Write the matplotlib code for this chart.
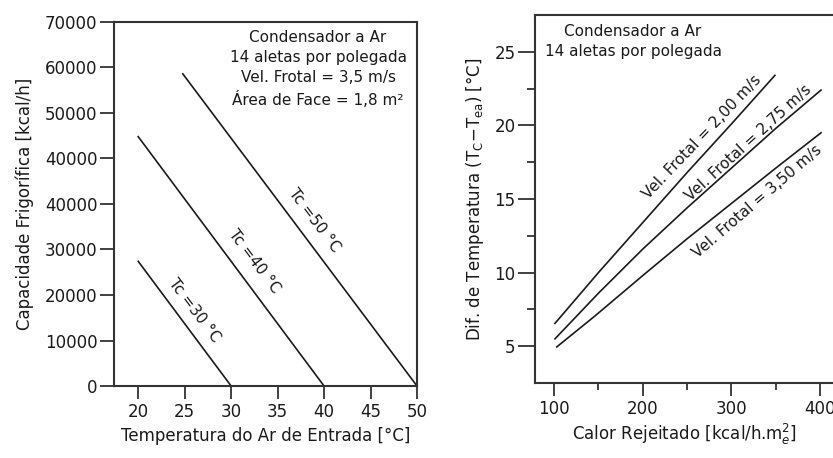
import matplotlib
matplotlib.use("Agg")
import matplotlib.pyplot as plt
import numpy as np

plt.rcParams['font.family'] = ['DejaVu Sans']

# ---------------- Left panel data ----------------
left_xticks = [20, 25, 30, 35, 40, 45, 50]
left_ytick_pos = [0, 10000, 20000, 30000, 40000, 50000, 60000, 70000, 80000]
left_ytick_labels = ["0", "10000", "20000", "30000", "40000", "40000", "50000", "60000", "70000"]

tc30_x = [20, 30]
tc30_y = [27400, 0]
tc40_x = [20, 40]
tc40_y = [54800, 0]
tc50_x = [24.8, 50]
tc50_y = [68600, 0]
tc_labels = ["Tc =30 °C", "Tc =40 °C", "Tc =50 °C"]

# ---------------- Right panel data ----------------
right_xticks = [100, 200, 300, 400]
right_xminor = [150, 250, 350]
right_yticks = [5, 10, 15, 20, 25]
right_yminor = [7.5, 12.5, 17.5, 22.5]

v200_x = [101, 150, 200, 250, 300, 349]
v200_y = [6.55, 10.0, 13.4, 16.8, 20.1, 23.4]
v275_x = [101, 150, 200, 250, 300, 350, 401]
v275_y = [5.5, 8.6, 11.6, 14.4, 17.1, 19.8, 22.4]
v350_x = [103, 146, 200, 250, 300, 350, 401]
v350_y = [4.95, 7.05, 9.8, 12.3, 14.7, 17.1, 19.5]
vel_labels = ["Vel. Frotal = 2,00 m/s", "Vel. Frotal = 2,75 m/s", "Vel. Frotal = 3,50 m/s"]

ink = "#1a1a1a"
spine_c = "#333333"

fig = plt.figure(figsize=(8.33, 4.58), dpi=100)

# ================= Left axes =================
ax1 = fig.add_axes([0.1369, 0.1572, 0.3637, 0.7948])
for x, y in [(tc30_x, tc30_y), (tc40_x, tc40_y), (tc50_x, tc50_y)]:
    ax1.plot(x, y, color=ink, lw=1.2)
ax1.set_xlim(17.4, 50)
ax1.set_ylim(0, 80000)
ax1.set_xticks(left_xticks)
ax1.set_xticklabels([str(v) for v in left_xticks])
ax1.set_yticks(left_ytick_pos)
ax1.set_yticklabels(left_ytick_labels)
ax1.tick_params(axis='x', direction='out', length=9.5, width=1.3, color=spine_c,
                labelsize=12, pad=3, labelcolor=ink)
ax1.tick_params(axis='y', direction='out', length=10, width=1.3, color=spine_c,
                labelsize=12, pad=2, labelcolor=ink)
for s in ax1.spines.values():
    s.set_color(spine_c)
    s.set_linewidth(1.5)
ax1.set_xlabel("Temperatura do Ar de Entrada [°C]", fontsize=12, color=ink, labelpad=4)
ax1.set_ylabel("Capacidade Frigorífica [kcal/h]", fontsize=12, color=ink, labelpad=8)

ax1.text(39.35, 78300,
         "Condensador a Ar\n14 aletas por polegada\nVel. Frotal = 3,5 m/s\nÁrea de Face = 1,8 m²",
         ha='center', va='top', fontsize=11, color=ink, linespacing=1.42)
for (lx, ly), lab in zip([(26.0, 16700), (32.5, 27300), (39.0, 36400)], tc_labels):
    ax1.text(lx, ly, lab, rotation=-53, ha='center', va='center', fontsize=11,
             color=ink, rotation_mode='anchor')

# ================= Right axes =================
ax2 = fig.add_axes([0.6423, 0.1638, 0.3577, 0.8034])
for x, y in [(v200_x, v200_y), (v275_x, v275_y), (v350_x, v350_y)]:
    ax2.plot(x, y, color=ink, lw=1.2)
ax2.set_xlim(78.5, 414.5)
ax2.set_ylim(2.5, 27.5)
ax2.set_xticks(right_xticks)
ax2.set_xticks(right_xminor, minor=True)
ax2.set_yticks(right_yticks)
ax2.set_yticks(right_yminor, minor=True)
ax2.tick_params(axis='x', which='major', direction='out', length=9, width=1.3,
                color=spine_c, labelsize=12, pad=3, labelcolor=ink)
ax2.tick_params(axis='x', which='minor', direction='out', length=5, width=1.3, color=spine_c)
ax2.tick_params(axis='y', which='major', direction='out', length=12, width=1.3,
                color=spine_c, labelsize=12, pad=2, labelcolor=ink)
ax2.tick_params(axis='y', which='minor', direction='out', length=6, width=1.3, color=spine_c)
for name, s in ax2.spines.items():
    s.set_color(spine_c)
    s.set_linewidth(1.5)
ax2.spines['right'].set_visible(False)
ax2.set_xlabel("Calor Rejeitado [kcal/h.m$_e^2$]", fontsize=12, color=ink, labelpad=3)
ax2.set_ylabel("Dif. de Temperatura (T$_\\mathrm{C}$$-$T$_\\mathrm{ea}$) [°C]",
               fontsize=12, color=ink, labelpad=6)

ax2.text(189, 26.9, "Condensador a Ar\n14 aletas por polegada", ha='center', va='top',
         fontsize=11, color=ink, linespacing=1.42)
for (lx, ly, rot), lab in zip([(266.5, 19.2, 46.4), (319, 18.8, 42.3), (329, 14.8, 40.6)], vel_labels):
    ax2.text(lx, ly, lab, rotation=rot, ha='center', va='center', fontsize=11,
             color=ink, rotation_mode='anchor')

fig.savefig("out.png", dpi=100)
